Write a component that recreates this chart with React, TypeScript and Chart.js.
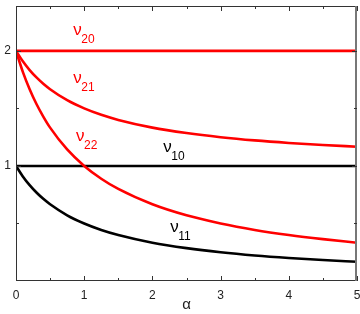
import React, { useEffect, useRef } from "react";
import { Chart, registerables } from "chart.js";

Chart.register(...registerables);

const alphaValues = [0, 0.1, 0.2, 0.3, 0.4, 0.5, 0.75, 1, 1.25, 1.5, 2, 2.5, 3, 3.5, 4, 4.5, 5];
const nu20 = [2, 2, 2, 2, 2, 2, 2, 2, 2, 2, 2, 2, 2, 2, 2, 2, 2];
const nu21 = [2, 1.909, 1.833, 1.769, 1.714, 1.667, 1.571, 1.5, 1.444, 1.4, 1.333, 1.286, 1.25, 1.222, 1.2, 1.182, 1.167];
const nu22 = [2, 1.818, 1.667, 1.538, 1.429, 1.333, 1.143, 1.0, 0.889, 0.8, 0.667, 0.571, 0.5, 0.444, 0.4, 0.364, 0.333];
const nu10 = [1, 1, 1, 1, 1, 1, 1, 1, 1, 1, 1, 1, 1, 1, 1, 1, 1];
const nu11 = [1, 0.909, 0.833, 0.769, 0.714, 0.667, 0.571, 0.5, 0.444, 0.4, 0.333, 0.286, 0.25, 0.222, 0.2, 0.182, 0.167];

const xTicks = [0, 1, 2, 3, 4, 5];
const yTicks = [1, 2];
const xMinorTicks = [0.5, 1.5, 2.5, 3.5, 4.5];
const yMinorTicks = [0.5, 1.5];

const RED = "#ff0000";
const BLACK = "#000000";

const curveLabels = [
  { sub: "20", x: 0.84, y: 2.14, color: RED },
  { sub: "21", x: 0.84, y: 1.72, color: RED },
  { sub: "22", x: 0.88, y: 1.217, color: RED },
  { sub: "10", x: 2.16, y: 1.122, color: BLACK },
  { sub: "11", x: 2.26, y: 0.426, color: BLACK },
];

const FONT = "'Liberation Sans', Arial, sans-serif";

const toPts = (ys: number[]) => alphaValues.map((x, i) => ({ x, y: ys[i] }));

const framePlugin = {
  id: "framePlugin",
  afterDatasetsDraw(chart: any) {
    const { ctx, chartArea, scales } = chart;
    const xs = scales.x;
    const ys = scales.y;
    const { left, right, top, bottom } = chartArea;
    ctx.save();
    for (const l of curveLabels) {
      const px = xs.getPixelForValue(l.x);
      const py = ys.getPixelForValue(l.y);
      ctx.fillStyle = l.color;
      ctx.textBaseline = "alphabetic";
      ctx.textAlign = "left";
      ctx.font = `17px ${FONT}`;
      ctx.fillText("ν", px, py);
      ctx.font = `12px ${FONT}`;
      ctx.fillText(l.sub, px + 8, py + 8);
    }
    ctx.strokeStyle = "#333";
    ctx.lineWidth = 1;
    ctx.strokeRect(left + 0.5, top + 0.5, right - left - 1, bottom - top - 1);
    ctx.strokeStyle = "#777";
    ctx.lineWidth = 2;
    ctx.beginPath();
    ctx.moveTo(right - 1, top);
    ctx.lineTo(right - 1, bottom);
    ctx.stroke();
    ctx.strokeStyle = "#333";
    ctx.lineWidth = 1;
    ctx.beginPath();
    const xt = (v: number, len: number) => {
      const p = Math.round(xs.getPixelForValue(v)) + 0.5;
      ctx.moveTo(p, bottom);
      ctx.lineTo(p, bottom - len);
      ctx.moveTo(p, top);
      ctx.lineTo(p, top + len);
    };
    const yt = (v: number, len: number) => {
      const p = Math.round(ys.getPixelForValue(v)) + 0.5;
      ctx.moveTo(left, p);
      ctx.lineTo(left + len, p);
      ctx.moveTo(right, p);
      ctx.lineTo(right - len, p);
    };
    xTicks.forEach((v) => xt(v, 5));
    xMinorTicks.forEach((v) => xt(v, 3));
    yTicks.forEach((v) => yt(v, 5));
    yMinorTicks.forEach((v) => yt(v, 3));
    ctx.stroke();
    ctx.restore();
  },
};

export default function App() {
  const ref = useRef<HTMLCanvasElement | null>(null);
  useEffect(() => {
    document.body.style.margin = "0";
    if (!ref.current) return;
    const mk = (label: string, ys: number[], color: string) => ({
      label,
      data: toPts(ys),
      borderColor: color,
      backgroundColor: color,
      borderWidth: 2.6,
      pointRadius: 0,
      showLine: true,
      fill: false,
      cubicInterpolationMode: "monotone" as const,
    });
    const chart = new Chart(ref.current, {
      type: "scatter",
      data: {
        datasets: [
          mk("ν20", nu20, RED),
          mk("ν21", nu21, RED),
          mk("ν22", nu22, RED),
          mk("ν10", nu10, BLACK),
          mk("ν11", nu11, BLACK),
        ],
      },
      options: {
        animation: false,
        responsive: true,
        maintainAspectRatio: false,
        layout: { padding: { top: 6, right: 3, left: 0, bottom: 0 } },
        plugins: { legend: { display: false }, tooltip: { enabled: false } },
        scales: {
          x: {
            type: "linear",
            min: 0,
            max: 5,
            grid: { display: false, drawTicks: false },
            border: { display: false },
            afterBuildTicks: (s: any) => {
              s.ticks = xTicks.map((v) => ({ value: v }));
            },
            afterFit: (s: any) => {
              s.height = 33;
              s.paddingLeft = 0;
              s.paddingRight = 0;
            },
            ticks: {
              padding: 7,
              color: "#222",
              font: { family: FONT, size: 12 },
              maxRotation: 0,
            },
            title: {
              display: true,
              text: "α",
              color: "#222",
              font: { family: FONT, size: 15 },
              padding: { top: 0, bottom: 0 },
            },
          },
          y: {
            type: "linear",
            min: 0,
            max: 2.39,
            grid: { display: false, drawTicks: false },
            border: { display: false },
            afterBuildTicks: (s: any) => {
              s.ticks = yTicks.map((v) => ({ value: v }));
            },
            afterFit: (s: any) => {
              s.width = 16;
              s.paddingTop = 0;
              s.paddingBottom = 0;
            },
            ticks: {
              padding: 5,
              color: "#222",
              font: { family: FONT, size: 12 },
            },
          },
        },
      },
      plugins: [framePlugin],
    });
    return () => chart.destroy();
  }, []);
  return (
    <div style={{ width: 360, height: 314, position: "relative" }}>
      <canvas ref={ref} />
    </div>
  );
}
